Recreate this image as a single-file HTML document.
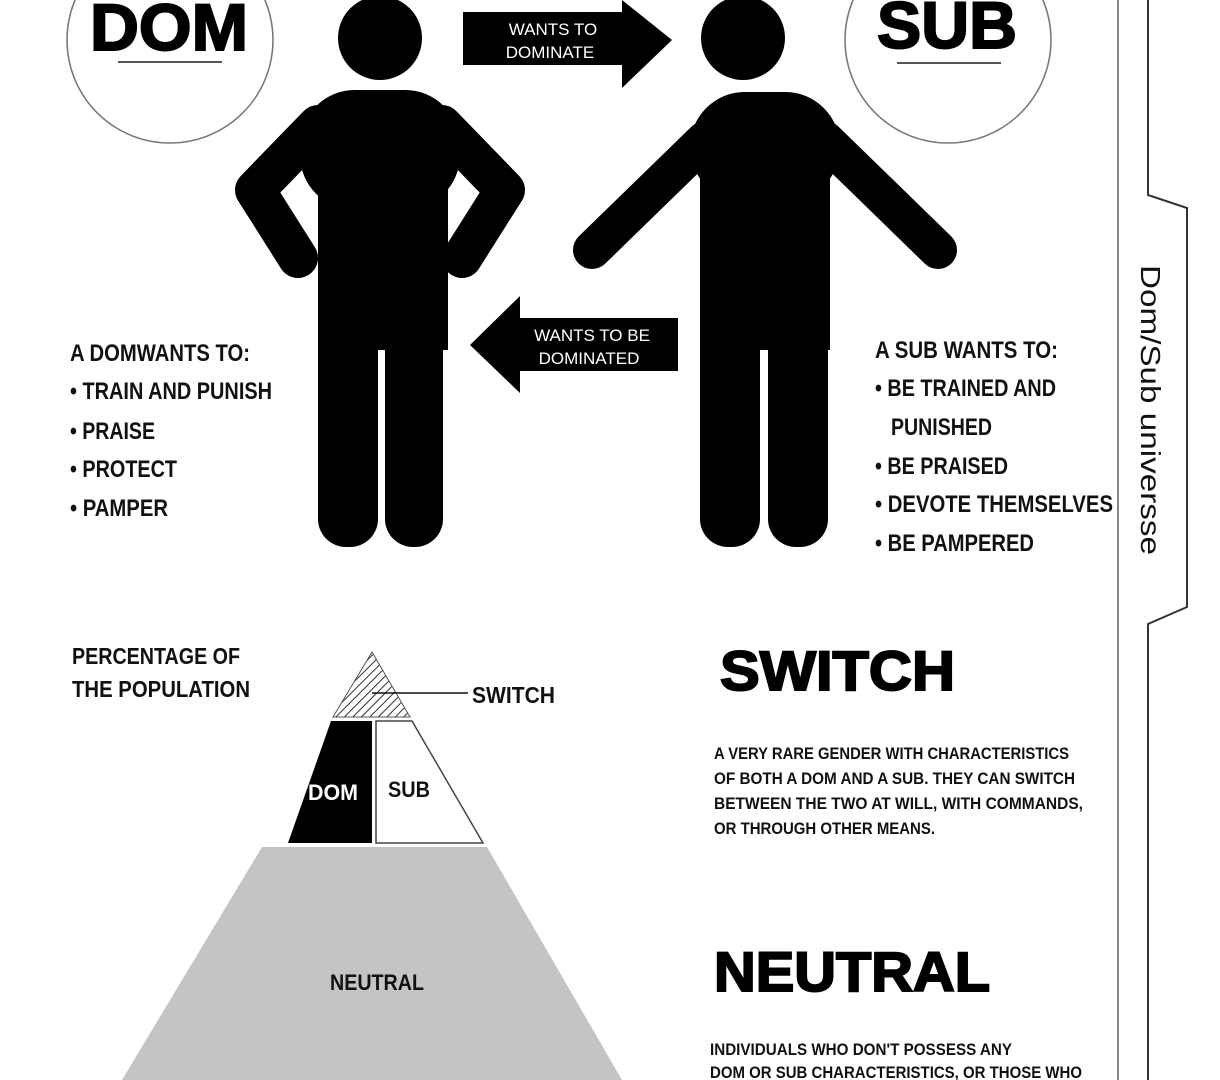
<!DOCTYPE html>
<html><head><meta charset="utf-8"><style>
html,body{margin:0;padding:0;background:#fff;}
svg{display:block;}
.n{font-family:"Liberation Sans",sans-serif;font-weight:bold;}
.b{font-family:"Liberation Sans",sans-serif;font-weight:bold;}
</style></head><body>
<svg width="1220" height="1080" viewBox="0 0 1220 1080" xmlns="http://www.w3.org/2000/svg">
<defs>
<pattern id="h" width="6" height="6" patternUnits="userSpaceOnUse" patternTransform="rotate(45)">
<rect width="6" height="6" fill="#fff"/><line x1="0" y1="0" x2="0" y2="6" stroke="#333" stroke-width="2"/>
</pattern>
</defs>
<rect width="1220" height="1080" fill="#fff"/>
<circle cx="170" cy="40" r="103" fill="none" stroke="#777" stroke-width="1.5"/>
<text x="90" y="50" class="b" font-size="66" fill="#000" textLength="158" lengthAdjust="spacingAndGlyphs" stroke="#000" stroke-width="2">DOM</text>
<line x1="118" y1="62" x2="222" y2="62" stroke="#555" stroke-width="2"/>
<circle cx="948" cy="40" r="103" fill="none" stroke="#777" stroke-width="1.5"/>
<text x="877" y="48" class="b" font-size="66" fill="#000" textLength="140" lengthAdjust="spacingAndGlyphs" stroke="#000" stroke-width="2">SUB</text>
<line x1="897" y1="63" x2="1001" y2="63" stroke="#555" stroke-width="2"/>
<!-- dom figure -->
<circle cx="380" cy="38" r="42" fill="#000"/>
<g fill="none" stroke="#000" stroke-width="40" stroke-linecap="round" stroke-linejoin="round">
<polyline points="318,125 255,190 298,258"/>
<polyline points="442,125 505,190 462,258"/>
</g>
<rect x="300" y="90" width="160" height="120" rx="55" fill="#000"/>
<rect x="318" y="150" width="130" height="200" fill="#000"/>
<rect x="318" y="300" width="60" height="247" rx="28" fill="#000"/>
<rect x="385" y="300" width="58" height="247" rx="28" fill="#000"/>
<rect x="318" y="300" width="125" height="30" fill="#000"/>
<!-- sub figure -->
<circle cx="743" cy="38" r="42" fill="#000"/>
<g fill="none" stroke="#000" stroke-width="38" stroke-linecap="round" stroke-linejoin="round">
<line x1="705" y1="140" x2="592" y2="250"/>
<line x1="825" y1="140" x2="938" y2="250"/>
</g>
<rect x="690" y="92" width="150" height="110" rx="55" fill="#000"/>
<rect x="700" y="150" width="130" height="200" fill="#000"/>
<rect x="700" y="300" width="60" height="247" rx="28" fill="#000"/>
<rect x="768" y="300" width="60" height="247" rx="28" fill="#000"/>
<rect x="700" y="300" width="128" height="30" fill="#000"/>
<!-- arrows -->
<rect x="463" y="12" width="162" height="53" fill="#000"/>
<polygon points="622,0 672,40 622,88" fill="#000"/>
<text x="553" y="35" text-anchor="middle" font-family="Liberation Sans, sans-serif" font-size="17" fill="#fff">WANTS TO</text>
<text x="550" y="58" text-anchor="middle" font-family="Liberation Sans, sans-serif" font-size="17" fill="#fff">DOMINATE</text>
<rect x="518" y="318" width="160" height="53" fill="#000"/>
<polygon points="520,296 470,345 520,393" fill="#000"/>
<text x="592" y="341" text-anchor="middle" font-family="Liberation Sans, sans-serif" font-size="17" fill="#fff">WANTS TO BE</text>
<text x="589" y="364" text-anchor="middle" font-family="Liberation Sans, sans-serif" font-size="17" fill="#fff">DOMINATED</text>
<!-- lists -->
<g class="n" font-size="24" fill="#111">
<text x="70" y="361" textLength="180" lengthAdjust="spacingAndGlyphs">A DOMWANTS TO:</text>
<text x="70" y="399" textLength="202" lengthAdjust="spacingAndGlyphs">• TRAIN AND PUNISH</text>
<text x="70" y="439" textLength="85" lengthAdjust="spacingAndGlyphs">• PRAISE</text>
<text x="70" y="477" textLength="107" lengthAdjust="spacingAndGlyphs">• PROTECT</text>
<text x="70" y="516" textLength="98" lengthAdjust="spacingAndGlyphs">• PAMPER</text>
<text x="875" y="358" textLength="183" lengthAdjust="spacingAndGlyphs">A SUB WANTS TO:</text>
<text x="875" y="396" textLength="181" lengthAdjust="spacingAndGlyphs">• BE TRAINED AND</text>
<text x="891" y="435" textLength="101" lengthAdjust="spacingAndGlyphs">PUNISHED</text>
<text x="875" y="474" textLength="133" lengthAdjust="spacingAndGlyphs">• BE PRAISED</text>
<text x="875" y="512" textLength="238" lengthAdjust="spacingAndGlyphs">• DEVOTE THEMSELVES</text>
<text x="875" y="551" textLength="159" lengthAdjust="spacingAndGlyphs">• BE PAMPERED</text>
</g>
<!-- pyramid -->
<polygon points="372,652 333,717 410,717" fill="url(#h)" stroke="#555" stroke-width="1"/>
<line x1="372" y1="693" x2="468" y2="693" stroke="#111" stroke-width="1.5"/>
<polygon points="331,721 372,721 372,843 288,843" fill="#000"/>
<polygon points="376,721 412,721 483,843 376,843" fill="#fff" stroke="#444" stroke-width="1.5"/>
<polygon points="262,847 487,847 622,1080 122,1080" fill="#c4c4c4"/>
<g class="n" font-size="23">
<text x="72" y="664" fill="#111" textLength="168" lengthAdjust="spacingAndGlyphs">PERCENTAGE OF</text>
<text x="72" y="697" fill="#111" textLength="178" lengthAdjust="spacingAndGlyphs">THE POPULATION</text>
<text x="472" y="703" fill="#111" textLength="83" lengthAdjust="spacingAndGlyphs">SWITCH</text>
<text x="308" y="800" fill="#fff" font-size="22" textLength="50" lengthAdjust="spacingAndGlyphs">DOM</text>
<text x="388" y="797" fill="#111" font-size="22" textLength="42" lengthAdjust="spacingAndGlyphs">SUB</text>
<text x="330" y="990" fill="#111" font-size="22" textLength="94" lengthAdjust="spacingAndGlyphs">NEUTRAL</text>
</g>
<!-- right text -->
<text x="720" y="690" class="b" font-size="56" fill="#000" stroke="#000" stroke-width="2" textLength="235" lengthAdjust="spacingAndGlyphs">SWITCH</text>
<g class="n" font-size="17" fill="#111">
<text x="714" y="759" textLength="355" lengthAdjust="spacingAndGlyphs">A VERY RARE GENDER WITH CHARACTERISTICS</text>
<text x="714" y="784" textLength="361" lengthAdjust="spacingAndGlyphs">OF BOTH A DOM AND A SUB. THEY CAN SWITCH</text>
<text x="714" y="809" textLength="369" lengthAdjust="spacingAndGlyphs">BETWEEN THE TWO AT WILL, WITH COMMANDS,</text>
<text x="714" y="834" textLength="221" lengthAdjust="spacingAndGlyphs">OR THROUGH OTHER MEANS.</text>
<text x="710" y="1055" textLength="302" lengthAdjust="spacingAndGlyphs">INDIVIDUALS WHO DON'T POSSESS ANY</text>
<text x="710" y="1078" textLength="372" lengthAdjust="spacingAndGlyphs">DOM OR SUB CHARACTERISTICS, OR THOSE WHO</text>
</g>
<text x="714" y="991" class="b" font-size="56" fill="#000" stroke="#000" stroke-width="2" textLength="276" lengthAdjust="spacingAndGlyphs">NEUTRAL</text>
<!-- tab -->
<line x1="1118" y1="0" x2="1118" y2="1080" stroke="#888" stroke-width="2"/>
<polyline points="1148,0 1148,195 1187,208 1187,607 1148,624 1148,1080" fill="none" stroke="#333" stroke-width="2"/>
<text transform="translate(1141,265) rotate(90)" font-family="Liberation Sans, sans-serif" font-size="28" fill="#111" textLength="290" lengthAdjust="spacingAndGlyphs">Dom/Sub universse</text>
</svg>
</body></html>
